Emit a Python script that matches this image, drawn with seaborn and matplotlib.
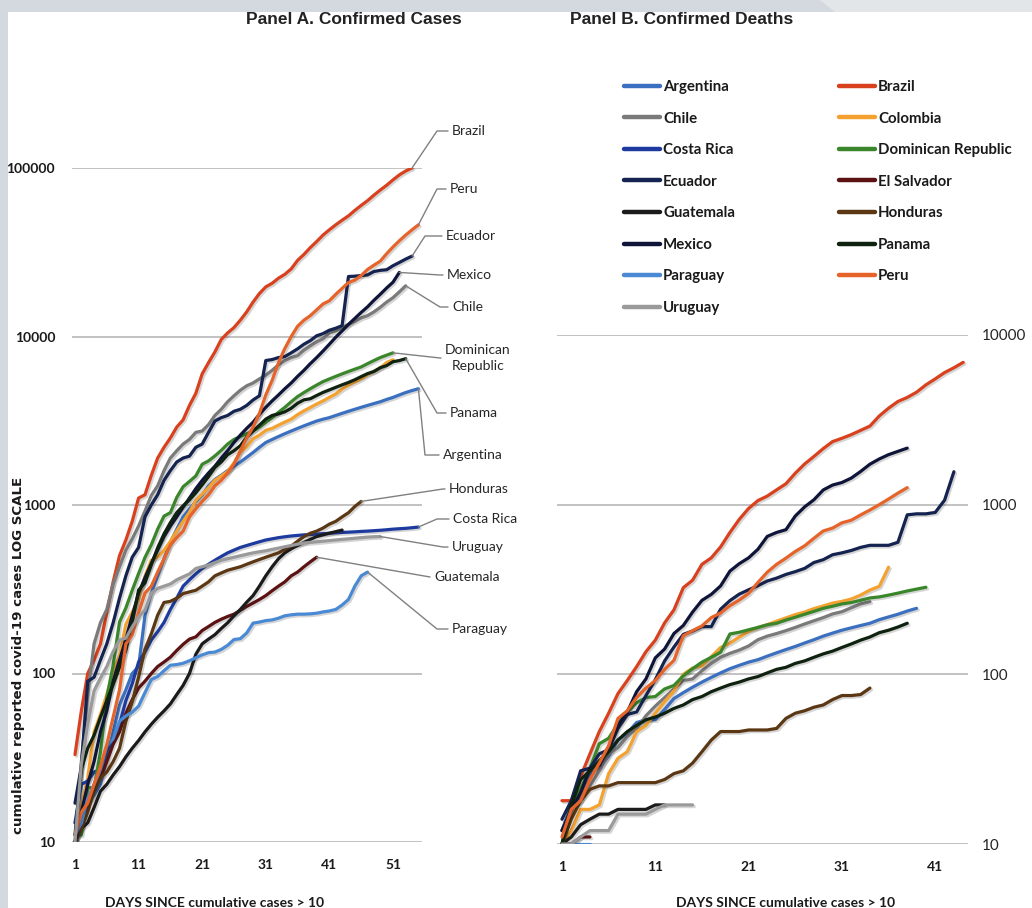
# %%
# ==========================================
# LATIN AMERICA COVID-19: CASES AND DEATHS (LOG SCALE)
# ==========================================
import numpy as np
import pandas as pd
import matplotlib
matplotlib.use("Agg")
import matplotlib.pyplot as plt
import matplotlib.patheffects as pe
import matplotlib.transforms as mtransforms
from matplotlib.lines import Line2D
from matplotlib.patches import Rectangle, Polygon
import seaborn as sns

# %%
# ---------- data (day 1 = first day with > 10) ----------
countries = ["Argentina", "Brazil", "Chile", "Colombia", "Costa Rica",
             "Dominican Republic", "Ecuador", "El Salvador", "Guatemala",
             "Honduras", "Mexico", "Panama", "Paraguay", "Peru", "Uruguay"]
colors = ["#3b6fc0", "#d9411e", "#7a7a7a", "#f4a12f", "#1d3a9e",
          "#3a862a", "#14234f", "#5c1212", "#1b1b1b",
          "#5b3713", "#0e1538", "#0f2210", "#4a8ad4", "#e6632a", "#9a9a9a"]

# Panel A - confirmed cases
cases_argentina = [10, 12, 17, 19, 22, 31, 45, 65, 80, 100, 110, 220, 300, 380, 480, 600, 720, 850, 950, 1050,
                   1150, 1300, 1420, 1500, 1600, 1700, 1800, 1920, 2050, 2200, 2350, 2450, 2550, 2650, 2750,
                   2850, 2950, 3050, 3150, 3230, 3300, 3400, 3500, 3600, 3700, 3800, 3900, 4000, 4100, 4230,
                   4350, 4500, 4650, 4780, 4900]
cases_brazil = [33, 60, 100, 120, 150, 230, 350, 500, 620, 800, 1100, 1150, 1500, 1900, 2200, 2500, 2900, 3200,
                3900, 4600, 6000, 7000, 8100, 9600, 10500, 11300, 12500, 14000, 16000, 18000, 19700, 20700,
                22200, 23400, 25200, 28300, 30700, 33700, 36600, 40000, 43000, 46000, 49000, 52000, 56000,
                60000, 64000, 69000, 74000, 79000, 85000, 91000, 96000, 100000]
cases_chile = [10, 30, 75, 150, 200, 240, 340, 430, 540, 630, 750, 920, 1140, 1300, 1600, 1900, 2100, 2300, 2450,
               2700, 2750, 3000, 3400, 3700, 4100, 4450, 4800, 5100, 5300, 5600, 5900, 6300, 6800, 7200, 7500,
               7700, 8300, 8800, 9300, 9700, 10500, 10800, 11300, 11800, 12300, 12900, 13300, 14000, 14900,
               16000, 17000, 18400, 20000]
cases_colombia = [13, 16, 24, 45, 57, 75, 102, 128, 196, 231, 277, 378, 470, 491, 539, 608, 702, 798, 906, 1065,
                  1161, 1267, 1406, 1485, 1579, 1780, 2054, 2223, 2473, 2600, 2776, 2852, 2979, 3105, 3233, 3439,
                  3621, 3792, 3977, 4149, 4356, 4561, 4881, 5142, 5379, 5597, 5949, 6207, 6507, 7006, 7285]
cases_costa_rica = [13, 22, 23, 26, 27, 35, 41, 50, 69, 87, 117, 134, 158, 177, 201, 240, 280, 330, 360, 390,
                    420, 445, 470, 495, 520, 540, 560, 575, 590, 605, 620, 630, 640, 648, 655, 660, 665, 668,
                    672, 676, 680, 684, 687, 690, 693, 697, 700, 704, 708, 713, 719, 723, 727, 733, 740]
cases_dominican = [11, 11, 21, 21, 34, 72, 112, 202, 245, 312, 392, 488, 581, 719, 859, 901, 1109, 1284, 1380,
                   1488, 1745, 1828, 1956, 2111, 2300, 2450, 2550, 2650, 2750, 2900, 3100, 3300, 3550, 3800, 4100,
                   4400, 4650, 4900, 5150, 5400, 5600, 5800, 6000, 6200, 6400, 6600, 6900, 7200, 7500, 7750, 8000]
cases_ecuador = [17, 28, 90, 95, 120, 150, 200, 280, 380, 490, 560, 850, 1000, 1150, 1400, 1600, 1800, 1900,
                 1950, 2200, 2300, 2700, 3150, 3300, 3400, 3600, 3700, 3900, 4200, 4450, 7200, 7300, 7500, 7600,
                 8000, 8450, 9000, 9450, 10100, 10400, 10900, 11200, 11600, 22700, 22800, 23000, 23200, 24300,
                 24700, 24900, 26300, 27500, 28800, 30000]
cases_el_salvador = [10, 13, 17, 20, 24, 30, 38, 45, 58, 70, 82, 90, 100, 110, 117, 125, 137, 149, 160, 165,
                     180, 190, 201, 210, 218, 225, 237, 250, 262, 275, 290, 310, 330, 350, 380, 400, 430, 460, 490]
cases_guatemala = [10, 12, 13, 16, 20, 22, 25, 28, 32, 36, 40, 45, 50, 55, 60, 66, 75, 85, 100, 130, 150, 160,
                   170, 185, 200, 220, 240, 265, 290, 330, 380, 430, 480, 520, 550, 575, 600, 625, 650, 665, 680,
                   695, 710]
cases_honduras = [10, 12, 15, 20, 24, 26, 30, 36, 52, 68, 95, 139, 172, 222, 264, 268, 280, 298, 305, 312, 330,
                  350, 380, 395, 410, 420, 430, 445, 460, 475, 490, 505, 520, 545, 570, 610, 650, 680, 700, 730,
                  770, 800, 850, 900, 980, 1050]
cases_mexico = [10, 15, 22, 30, 45, 60, 90, 120, 160, 220, 300, 370, 450, 540, 650, 750, 850, 970, 1100, 1250,
                1400, 1550, 1700, 1900, 2100, 2350, 2600, 2850, 3100, 3450, 3800, 4150, 4500, 4900, 5300, 5800,
                6300, 6900, 7500, 8200, 9000, 9900, 10800, 11800, 12800, 13900, 15000, 16400, 17800, 19400,
                21000, 24000]
cases_panama = [11, 27, 36, 43, 55, 69, 86, 109, 137, 200, 313, 345, 443, 558, 674, 786, 901, 989, 1075, 1181,
                1317, 1475, 1673, 1801, 1988, 2100, 2249, 2528, 2752, 2974, 3234, 3400, 3472, 3574, 3751, 4016,
                4210, 4273, 4467, 4658, 4821, 4992, 5166, 5338, 5538, 5779, 6021, 6200, 6532, 6720, 7090, 7197,
                7387]
cases_paraguay = [11, 13, 18, 22, 27, 37, 41, 52, 56, 59, 64, 77, 92, 96, 104, 112, 113, 115, 119, 124, 129,
                  133, 134, 139, 147, 159, 161, 174, 199, 202, 206, 208, 213, 220, 223, 225, 225, 226, 228, 232,
                  235, 240, 255, 275, 330, 380, 400]
cases_peru = [11, 15, 17, 22, 28, 38, 55, 80, 150, 170, 230, 300, 330, 400, 480, 580, 640, 700, 850, 950, 1050,
              1150, 1300, 1400, 1550, 1750, 2100, 2500, 2900, 3500, 4500, 5500, 7000, 8500, 10000, 11500, 12500,
              13300, 14400, 15600, 16300, 17800, 19300, 20900, 21600, 23000, 25000, 26500, 28000, 31000, 34000,
              37000, 40000, 43000, 46000]
cases_uruguay = [10, 29, 50, 79, 94, 110, 135, 158, 162, 189, 217, 238, 300, 320, 330, 340, 360, 375, 390, 420,
                 430, 440, 455, 470, 480, 490, 500, 510, 520, 528, 535, 545, 555, 565, 575, 585, 595, 600, 605,
                 610, 615, 620, 625, 630, 635, 640, 645, 648, 650]

# Panel B - confirmed deaths
deaths_argentina = [12, 17, 19, 26, 28, 33, 41, 45, 52, 54, 54, 62, 72, 78, 84, 90, 96, 102, 108, 113, 118, 122,
                    128, 134, 140, 146, 153, 160, 168, 175, 182, 188, 194, 200, 210, 218, 226, 236, 245]
deaths_brazil = [18, 18, 25, 34, 46, 59, 77, 92, 111, 136, 159, 201, 240, 324, 359, 445, 486, 564, 686, 819, 950,
                 1057, 1124, 1223, 1328, 1532, 1736, 1924, 2141, 2354, 2462, 2587, 2741, 2906, 3331, 3704, 4057,
                 4286, 4603, 5083, 5513, 6006, 6412, 6900]
deaths_chile = [12, 16, 18, 22, 27, 34, 37, 43, 48, 57, 65, 73, 82, 92, 94, 105, 116, 126, 133, 139, 147, 160,
                168, 174, 181, 189, 198, 207, 216, 227, 234, 247, 260, 268]
deaths_colombia = [10, 12, 16, 16, 17, 26, 32, 35, 46, 50, 59, 69, 80, 100, 109, 112, 127, 144, 153, 166, 179,
                   189, 196, 206, 215, 225, 233, 244, 253, 263, 269, 278, 293, 314, 330, 428]
deaths_costa_rica = []
deaths_dominican = [10, 17, 21, 28, 39, 42, 51, 60, 68, 73, 74, 82, 86, 98, 108, 118, 126, 135, 173, 177, 183,
                    189, 196, 200, 209, 217, 226, 235, 245, 252, 260, 265, 273, 282, 286, 293, 301, 310, 318, 326]
deaths_ecuador = [14, 18, 27, 28, 34, 36, 48, 58, 60, 75, 93, 120, 145, 172, 180, 191, 191, 242, 272, 297, 315,
                  333, 355, 369, 388, 403, 421, 456, 474, 507, 520, 537, 560, 576, 576, 576, 600, 871, 883, 883,
                  900, 1063, 1564]
deaths_el_salvador = [10, 10, 11, 11]
deaths_guatemala = [10, 11, 13, 14, 15, 15, 16, 16, 16, 16, 17, 17]
deaths_honduras = [10, 14, 18, 21, 22, 22, 23, 23, 23, 23, 23, 24, 26, 27, 30, 35, 41, 46, 46, 46, 47, 47, 47,
                   48, 55, 59, 61, 64, 66, 71, 75, 75, 76, 83]
deaths_mexico = [12, 16, 20, 28, 29, 37, 50, 60, 79, 94, 125, 141, 174, 194, 233, 273, 296, 332, 406, 449, 486,
                 546, 650, 686, 712, 857, 970, 1069, 1221, 1305, 1351, 1434, 1569, 1732, 1859, 1972, 2061, 2154]
deaths_panama = [10, 17, 24, 27, 31, 35, 41, 46, 50, 54, 56, 59, 63, 66, 71, 74, 79, 83, 87, 90, 94, 97, 102,
                 107, 110, 116, 120, 126, 132, 137, 144, 151, 159, 166, 176, 182, 190, 200]
deaths_paraguay = [10, 10, 10, 10]
deaths_peru = [11, 16, 18, 24, 30, 38, 55, 61, 73, 83, 92, 107, 121, 169, 181, 193, 216, 230, 254, 274, 300, 348,
               400, 445, 484, 530, 572, 634, 700, 728, 782, 810, 870, 930, 1000, 1080, 1170, 1260]
deaths_uruguay = [10, 10, 11, 12, 12, 12, 15, 15, 15, 15, 16, 17, 17, 17, 17]

cases = dict(zip(countries, [cases_argentina, cases_brazil, cases_chile, cases_colombia, cases_costa_rica,
                             cases_dominican, cases_ecuador, cases_el_salvador, cases_guatemala, cases_honduras,
                             cases_mexico, cases_panama, cases_paraguay, cases_peru, cases_uruguay]))
deaths = dict(zip(countries, [deaths_argentina, deaths_brazil, deaths_chile, deaths_colombia, deaths_costa_rica,
                              deaths_dominican, deaths_ecuador, deaths_el_salvador, deaths_guatemala,
                              deaths_honduras, deaths_mexico, deaths_panama, deaths_paraguay, deaths_peru,
                              deaths_uruguay]))

# label text, country the leader points at, text left x, text y, knee x (figure pixels from top-left)
labels_a = [("Brazil", "Brazil", 452, 131, 437),
            ("Peru", "Peru", 450, 189, 437),
            ("Ecuador", "Ecuador", 446, 236, 425),
            ("Mexico", "Mexico", 447, 275, 440),
            ("Chile", "Chile", 452, 307, 440),
            ("Dominican\nRepublic", "Dominican Republic", 445, 358, 440),
            ("Panama", "Panama", 450, 413, 437),
            ("Argentina", "Argentina", 443, 455, 425),
            ("Honduras", "Honduras", 449, 489, 443),
            ("Costa Rica", "Costa Rica", 453, 519, 437),
            ("Uruguay", "Uruguay", 452, 547, 443),
            ("Guatemala", "El Salvador", 434, 577, 430),
            ("Paraguay", "Paraguay", 452, 629, 437)]


def long_table(series):
    rows = []
    for name, vals in series.items():
        for i, v in enumerate(vals):
            rows.append((name, i + 1, v))
    return pd.DataFrame(rows, columns=["country", "day", "value"])


df_cases = long_table(cases)
df_deaths = long_table(deaths)
palette = dict(zip(countries, colors))

# %%
# ---------- figure ----------
sns.set_theme(style="white")
plt.rcParams["font.family"] = ["Lato", "DejaVu Sans"]

W, H = 1032, 908
fig = plt.figure(figsize=(W / 100, H / 100), dpi=100, facecolor="#d3d9df")
px = mtransforms.Affine2D().scale(1 / W, -1 / H).translate(0, 1) + fig.transFigure

fig.patches.append(Rectangle((8 / W, 0), 1, 1 - 12 / H, transform=fig.transFigure,
                             facecolor="white", edgecolor="none", zorder=-10))
fig.patches.append(Polygon([(820, 0), (W, 0), (W, 12), (835, 12)], closed=True, transform=px,
                           facecolor="#e3e6e9", edgecolor="none", zorder=-10))

ax_a = fig.add_axes([71.8 / W, (H - 842) / H, 349.8 / W, 674 / H])
ax_b = fig.add_axes([557.3 / W, (H - 844) / H, 410.6 / W, 509 / H])

shadow = [pe.SimpleLineShadow(offset=(1.2, -1.2), alpha=0.18), pe.Normal()]

for ax, df, xmax, ymax in [(ax_a, df_cases, 55.5, 1e5), (ax_b, df_deaths, 44.5, 1e4)]:
    sns.lineplot(data=df, x="day", y="value", hue="country", hue_order=countries,
                 palette=palette, estimator=None, sort=False, linewidth=2.3,
                 legend=False, ax=ax)
    for ln in ax.lines:
        ln.set_path_effects(shadow)
        ln.set_solid_joinstyle("round")
    ax.set_yscale("log")
    ax.set_xlim(0.5, xmax)
    ax.set_ylim(10, ymax)
    ax.set_facecolor("none")
    ax.minorticks_off()
    yt = [10 ** k for k in range(1, int(np.log10(ymax)) + 1)]
    ax.set_yticks(yt)
    ax.set_yticklabels([str(v) for v in yt])
    ax.yaxis.grid(True, color="#bdbdbd", linewidth=1.3)
    ax.xaxis.grid(False)
    ax.set_axisbelow(True)
    for s in ax.spines.values():
        s.set_visible(False)
    ax.set_xlabel("")
    ax.set_ylabel("")

ax_a.set_xticks([1, 11, 21, 31, 41, 51])
ax_b.set_xticks([1, 11, 21, 31, 41])
for ax in (ax_a, ax_b):
    for lab in ax.get_xticklabels() + ax.get_yticklabels():
        lab.set_fontweight("bold")
        lab.set_fontsize(10)
        lab.set_color("#1a1a1a")
ax_a.tick_params(axis="x", length=0, pad=12)
ax_a.tick_params(axis="y", length=0, pad=12)
ax_b.yaxis.tick_right()
ax_b.tick_params(axis="x", length=0, pad=12)
ax_b.tick_params(axis="y", length=0, pad=10)

# ---------- titles and axis texts ----------
fig.text(354 / W, 1 - 20 / H, "Panel A. Confirmed Cases", ha="center", va="center",
         family="Liberation Sans", fontweight="bold", fontsize=12.5, color="#222222")
fig.text(682 / W, 1 - 20 / H, "Panel B. Confirmed Deaths", ha="center", va="center",
         family="Liberation Sans", fontweight="bold", fontsize=12.5, color="#222222")
fig.text(215 / W, 1 - 903 / H, "DAYS SINCE cumulative cases > 10", ha="center", va="center",
         fontweight="bold", fontsize=10, color="#1a1a1a")
fig.text(786 / W, 1 - 903 / H, "DAYS SINCE cumulative cases > 10", ha="center", va="center",
         fontweight="bold", fontsize=10, color="#1a1a1a")
fig.text(19 / W, 1 - 655 / H, "cumulative reported covid-19 cases LOG SCALE", rotation=90,
         ha="center", va="center", family="DejaVu Sans", fontweight="bold", fontsize=9.6,
         color="#1a1a1a")
fig.text(1039 / W, 1 - 598 / H, "cumulative reported covid-19 cases LOG SCALE", rotation=90,
         ha="center", va="center", family="DejaVu Sans", fontweight="bold", fontsize=9.6,
         color="#1a1a1a")

# ---------- panel A line labels with leader lines ----------
for text, target, tx, ty, kx in labels_a:
    vals = cases[target]
    ex, ey = ax_a.transData.transform((len(vals), vals[-1]))
    ey = H - ey
    fig.add_artist(Line2D([tx - 4, kx, ex], [ty, ty, ey], transform=px, color="#808080",
                          linewidth=1.0))
    fig.text(tx, ty, text, transform=px, ha="left", va="center", multialignment="center",
             fontsize=10, color="#262626", linespacing=1.5)

# ---------- panel B legend (two columns, row-major order) ----------
handles = [Line2D([0], [0], color=c, linewidth=3.2) for c in colors]
col1 = list(range(0, len(countries), 2))
col2 = list(range(1, len(countries), 2))
for idx, x0 in [(col1, 624), (col2, 839)]:
    leg = fig.legend([handles[i] for i in idx], [countries[i] for i in idx],
                     loc="upper left", bbox_to_anchor=(x0 / W, 1 - 80 / H),
                     bbox_transform=fig.transFigure, frameon=False, borderpad=0,
                     borderaxespad=0, handlelength=2.4, handletextpad=0.2,
                     labelspacing=1.17, prop={"family": "Lato", "weight": "bold", "size": 10.8})
    for t in leg.get_texts():
        t.set_color("#1a1a1a")

fig.savefig("out.png", dpi=100, facecolor=fig.get_facecolor())
